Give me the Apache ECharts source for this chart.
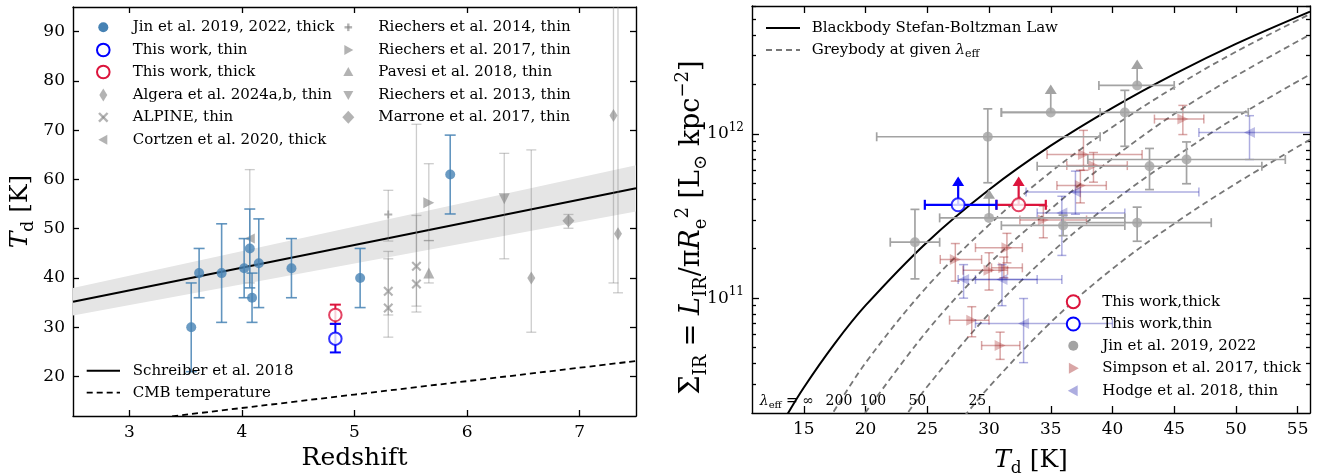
<!DOCTYPE html>
<html>
<head>
<meta charset="utf-8">
<script src="https://cdn.jsdelivr.net/npm/echarts@6.0.0/dist/echarts.min.js"></script>
<style>
html,body{margin:0;padding:0;background:#fff;}
#chart{width:1330px;height:475px;}
</style>
</head>
<body>
<div id="chart"></div>
<script>
// ================= LEFT PANEL : Td vs redshift =================
const zTicks = [3, 4, 5, 6, 7];
const tdTicks = [20, 30, 40, 50, 60, 70, 80, 90];
// rows: [z, Td, Td_low, Td_high]
const jinLeft = [[3.55,30,21,39],[3.62,41,36,46],[3.82,41,31,51],[4.02,42,36,48],[4.07,46,38,54],
                 [4.09,36,31,41],[4.15,43,34,52],[4.44,42,36,48],[5.05,40,34,46],[5.85,61,53,69]];
const thisThinLeft = [[4.83,27.7,24.9,30.7]];
const thisThickLeft = [[4.83,32.5,30.7,34.6]];
const algeraLeft = [[6.57,40,29,66],[7.30,73,39,100],[7.34,49,37,100]];
const alpineLeft = [[5.30,37.3,32.5,45.4],[5.30,33.9,28.0,43.9],[5.55,42.4,33.1,71.2],[5.55,38.8,34.3,52.7]];
const cortzenLeft = [[4.07,48,39,62]];
const riechers14Left = [[5.30,52.9,47.5,57.8]];
const riechers17Left = [[5.66,55.3,47.6,63.2]];
const pavesiLeft = [[5.66,41.0,39.0,47.6]];
const riechers13Left = [[6.33,56.1,43.9,65.3]];
const marroneLeft = [[6.90,51.6,50.1,52.9]];
const schreiberLine = [[2.5,35.2],[7.5,58.2]];
const schreiberBand = [[2.5,32.4,38.0],[7.5,53.5,62.9]]; // [z, low, high]
const cmbLine = [[2.5,9.54],[7.5,23.16]];

// ================= RIGHT PANEL : Sigma_IR vs Td =================
const tTicks = [15,20,25,30,35,40,45,50,55];
const logMajor = [1e11, 1e12];
const logMinor = [3e10,4e10,5e10,6e10,7e10,8e10,9e10,2e11,3e11,4e11,5e11,6e11,7e11,8e11,9e11,2e12,3e12,4e12,5e12,6e12];
const blackbody = [[13.5,1.87e10],[15,2.86e10],[17.5,5.29e10],[20,9.03e10],[25,2.20e11],[30,4.57e11],
                   [35,8.47e11],[40,1.44e12],[45,2.31e12],[50,3.53e12],[56,5.55e12]];
const grey200 = [[17,1.81e10],[20,4.04e10],[25,1.18e11],[30,2.79e11],[35,5.86e11],[40,1.10e12],[45,1.92e12],[50,3.16e12],[56,5.36e12]];
const grey100 = [[19.5,1.79e10],[25,6.35e10],[30,1.62e11],[35,3.49e11],[40,7.08e11],[45,1.32e12],[50,2.25e12],[56,4.02e12]];
const grey50  = [[23,1.81e10],[25,2.90e10],[30,8.04e10],[35,1.88e11],[40,3.85e11],[45,7.15e11],[50,1.26e12],[56,2.30e12]];
const grey25  = [[28,1.91e10],[30,2.88e10],[35,7.13e10],[40,1.51e11],[45,2.84e11],[50,4.98e11],[56,9.23e11]];
// rows: [Td, Sigma, Td_low, Td_high, Sigma_low, Sigma_high]
const jinRight = [[29.9,9.6e11,20.9,39.0,5.04e11,1.42e12],[41.0,1.35e12,31,51,8.4e11,1.84e12],
                  [43.0,6.35e11,33.9,52.1,4.58e11,8.15e11],[46.0,6.98e11,38,54,4.97e11,8.93e11],
                  [42.0,2.88e11,36,48,2.22e11,3.58e11],[24.0,2.19e11,22,26,1.31e11,3.47e11],
                  [36.0,2.77e11,31,41,2.4e11,3.2e11]];
// lower limits: [Td, Sigma, Td_low, Td_high, arrow_tip]
const jinRightLim = [[35.0,1.35e12,31,39,2.0e12],[42.0,1.97e12,38.9,45,2.83e12],[30.0,3.08e11,26,41,4.6e11]];
const simpsonRight = [[45.7,1.23e12,43.4,47.4,9.9e11,1.49e12],[37.65,7.48e11,34.7,42.4,6.0e11,1.05e12],
                      [38.46,6.41e11,36.3,41.2,5.08e11,7.7e11],[37.4,4.85e11,35.5,39.5,3.8e11,6.0e11],
                      [31.45,2.03e11,28.9,32.7,1.64e11,2.48e11],[27.27,1.72e11,26.05,29.4,1.27e11,2.15e11],
                      [30.0,1.48e11,27.9,31.5,1.12e11,1.89e11],[31.2,1.53e11,30.2,32.7,1.33e11,1.78e11],
                      [28.6,7.35e10,26.8,30.0,5.82e10,8.87e10],[30.9,5.15e10,29.4,32.5,4.24e10,6.21e10],
                      [34.4,2.99e11,32.5,37.9,2.33e11,3.63e11]];
const hodgeRight = [[51.1,1.02e12,47,57,6.98e11,1.29e12],[37.0,4.42e11,33,47,3.24e11,5.93e11],
                    [35.9,3.3e11,33.9,41,1.82e11,4.17e11],[27.94,1.3e11,27.5,33.9,1.0e11,1.6e11],
                    [31.05,1.3e11,28.9,35.9,9.0e10,1.6e11],[32.8,7.0e10,28.9,40,4.05e10,9.95e10]];
const thisThickRight = [[32.4,3.7e11,30.6,34.6,5.5e11]];
const thisThinRight = [[27.5,3.7e11,24.8,30.6,5.5e11]];
const lambdaLabels = [[11.43,2.36e10,'lam'],[16.76,2.36e10,'200'],[19.51,2.36e10,'100'],[23.47,2.36e10,'50'],[28.33,2.36e10,'25']];

// legend texts
const legendLeftA = ['Jin et al. 2019, 2022, thick','This work, thin','This work, thick','Algera et al. 2024a,b, thin','ALPINE, thin','Cortzen et al. 2020, thick'];
const legendLeftB = ['Riechers et al. 2014, thin','Riechers et al. 2017, thin','Pavesi et al. 2018, thin','Riechers et al. 2013, thin','Marrone et al. 2017, thin'];
const legendLeftC = ['Schreiber et al. 2018','CMB temperature'];
const legendRightB = ['This work,thick','This work,thin','Jin et al. 2019, 2022','Simpson et al. 2017, thick','Hodge et al. 2018, thin'];

// ================= styling =================
const F = 'DejaVu Serif';
const STEEL = '#4682b4', RED = '#dc143c', BLUE = '#0000ff';
const GRAYM = 'rgba(128,128,128,0.75)', GRAYE = 'rgba(128,128,128,0.4)';
const JGRAY = '#a3a3a3';
const BROWN = 'rgba(165,42,42,0.42)', NAVY = 'rgba(0,0,160,0.32)';
const CROSS = 'path://M1.5,0L5,3.5L8.5,0L10,1.5L6.5,5L10,8.5L8.5,10L5,6.5L1.5,10L0,8.5L3.5,5L0,1.5Z';
const PLUS = 'path://M3.8,0H6.2V3.8H10V6.2H6.2V10H3.8V6.2H0V3.8H3.8Z';

function L(x1,y1,x2,y2,st){return {type:'line',shape:{x1,y1,x2,y2},style:st};}

function vErr(rows, xi, yi, color, lw, cap, z){
  return {type:'custom', xAxisIndex:xi, yAxisIndex:yi, clip:true, z:z, silent:true, data:rows,
    encode:{x:0,y:1},
    renderItem:function(p, api){
      const x=api.value(0), a=api.coord([x,api.value(2)]), b=api.coord([x,api.value(3)]);
      const st={stroke:color,lineWidth:lw};
      return {type:'group',children:[L(a[0],a[1],b[0],b[1],st),L(a[0]-cap,a[1],a[0]+cap,a[1],st),L(b[0]-cap,b[1],b[0]+cap,b[1],st)]};
    }};
}
function xyErr(rows, xi, yi, color, lw, cap, z){
  return {type:'custom', xAxisIndex:xi, yAxisIndex:yi, clip:true, z:z, silent:true, data:rows,
    encode:{x:0,y:1},
    renderItem:function(p, api){
      const x=api.value(0), y=api.value(1);
      const l=api.coord([api.value(2),y]), r=api.coord([api.value(3),y]);
      const lo=api.coord([x,api.value(4)]), hi=api.coord([x,api.value(5)]);
      const st={stroke:color,lineWidth:lw};
      return {type:'group',children:[
        L(l[0],l[1],r[0],r[1],st),L(l[0],l[1]-cap,l[0],l[1]+cap,st),L(r[0],r[1]-cap,r[0],r[1]+cap,st),
        L(lo[0],lo[1],hi[0],hi[1],st),L(lo[0]-cap,lo[1],lo[0]+cap,lo[1],st),L(hi[0]-cap,hi[1],hi[0]+cap,hi[1],st)]};
    }};
}
function limErr(rows, xi, yi, color, lw, cap, z){
  return {type:'custom', xAxisIndex:xi, yAxisIndex:yi, clip:true, z:z, silent:true, data:rows,
    encode:{x:0,y:1},
    renderItem:function(p, api){
      const x=api.value(0), y=api.value(1);
      const c=api.coord([x,y]);
      const l=api.coord([api.value(2),y]), r=api.coord([api.value(3),y]);
      const t=api.coord([x,api.value(4)]);
      const st={stroke:color,lineWidth:lw};
      return {type:'group',children:[
        L(l[0],l[1],r[0],r[1],st),L(l[0],l[1]-cap,l[0],l[1]+cap,st),L(r[0],r[1]-cap,r[0],r[1]+cap,st),
        L(c[0],c[1],t[0],t[1]+8,st),
        {type:'polygon',shape:{points:[[t[0],t[1]],[t[0]+6,t[1]+9.5],[t[0]-6,t[1]+9.5]]},style:{fill:color}}]};
    }};
}
function sc(rows, xi, yi, symbol, size, style, z, rot){
  return {type:'scatter', xAxisIndex:xi, yAxisIndex:yi, symbol:symbol, symbolSize:size, symbolRotate:rot||0,
    data:rows.map(r=>[r[0],r[1]]), itemStyle:style, z:z, silent:true, clip:true};
}
function line(rows, xi, yi, color, width, dash, z){
  return {type:'line', xAxisIndex:xi, yAxisIndex:yi, data:rows, symbol:'none', smooth:0.35, z:z, silent:true,
    lineStyle:{color:color,width:width,type:dash||'solid'}, clip:true};
}

const axLine = {show:true,onZero:false,lineStyle:{color:'#000',width:1.4}};
function tick(vals,len){return {show:true,inside:true,length:len||6,customValues:vals,lineStyle:{color:'#000',width:1.3}};}
function lab(vals,extra){return Object.assign({show:true,customValues:vals,color:'#000',fontFamily:F,fontSize:17,margin:8},extra||{});}
const noLab = {show:false};

const nameRich = {
  i:{fontFamily:F,fontStyle:'italic',fontSize:25,lineHeight:34,verticalAlign:'middle',color:'#000'},
  g:{fontFamily:F,fontSize:25,lineHeight:34,verticalAlign:'middle',color:'#000'},
  s:{fontFamily:F,fontSize:17,lineHeight:17,verticalAlign:'bottom',color:'#000'},
  p:{fontFamily:F,fontSize:17,lineHeight:17,verticalAlign:'top',color:'#000'}
};
const nameRichBig = {
  i:{fontFamily:F,fontStyle:'italic',fontSize:27,lineHeight:36,verticalAlign:'middle',color:'#000'},
  g:{fontFamily:F,fontSize:27,lineHeight:36,verticalAlign:'middle',color:'#000'},
  s:{fontFamily:F,fontSize:18,lineHeight:18,verticalAlign:'bottom',color:'#000'},
  p:{fontFamily:F,fontSize:18,lineHeight:18,verticalAlign:'top',color:'#000'}
};

// ---------- legend graphics ----------
const G = [];
function gtext(x,y,text,size,rich){G.push({type:'text',x:x,y:y,z:100,style:{text:text,fontFamily:F,fontSize:size||15,fill:'#000',verticalAlign:'middle',align:'left',rich:rich}});}
function gcircle(cx,cy,r,fill,stroke,lw){G.push({type:'circle',z:100,shape:{cx,cy,r},style:{fill:fill,stroke:stroke||null,lineWidth:lw||0}});}
function gpoly(pts,fill){G.push({type:'polygon',z:100,shape:{points:pts},style:{fill:fill}});}
function gline(x1,y1,x2,y2,stroke,lw,dash){G.push({type:'line',z:100,shape:{x1,y1,x2,y2},style:{stroke:stroke,lineWidth:lw,lineDash:dash||null}});}
function tri(cx,cy,s,dir){
  const h=s/2;
  if(dir==='up') return [[cx,cy-h],[cx+h,cy+h*0.8],[cx-h,cy+h*0.8]];
  if(dir==='down') return [[cx,cy+h],[cx+h,cy-h*0.8],[cx-h,cy-h*0.8]];
  if(dir==='right') return [[cx+h,cy],[cx-h*0.8,cy-h],[cx-h*0.8,cy+h]];
  return [[cx-h,cy],[cx+h*0.8,cy-h],[cx+h*0.8,cy+h]];
}
function dia(cx,cy,w,h){return [[cx,cy-h/2],[cx+w/2,cy],[cx,cy+h/2],[cx-w/2,cy]];}

const rowsA=[27.3,50,72,95,117.3,139.7];
const LG='rgba(128,128,128,0.6)';
gcircle(103.3,rowsA[0],5,STEEL);
gcircle(103.3,rowsA[1],6.3,'#fff',BLUE,2);
gcircle(103.3,rowsA[2],6.3,'#fff',RED,2);
gpoly(dia(103.3,rowsA[3],8,13),LG);
gline(99,rowsA[4]-4.3,107.6,rowsA[4]+4.3,LG,2.4); gline(99,rowsA[4]+4.3,107.6,rowsA[4]-4.3,LG,2.4);
gpoly(tri(103.3,rowsA[5],10,'left'),LG);
legendLeftA.forEach((t,i)=>gtext(132.7,rowsA[i],t,15));
gline(344.5,rowsA[0],352.1,rowsA[0],LG,2.4); gline(348.3,rowsA[0]-3.8,348.3,rowsA[0]+3.8,LG,2.4);
gpoly(tri(348.3,rowsA[1],10,'right'),LG);
gpoly(tri(348.3,rowsA[2],10,'up'),LG);
gpoly(tri(348.3,rowsA[3],10,'down'),LG);
gpoly(dia(348.3,rowsA[4],12,13),LG);
legendLeftB.forEach((t,i)=>gtext(378.3,rowsA[i],t,15));
gline(86.7,370.7,120,370.7,'#000',2); gline(86.7,392.7,120,392.7,'#000',1.8,[6,4]);
legendLeftC.forEach((t,i)=>gtext(132.7,[370.7,392.7][i],t,15));
// right panel legends
gline(766,28,800,28,'#000',2); gline(766,50,800,50,'#777',1.8,[6,4]);
gtext(811.7,28,'Blackbody Stefan-Boltzman Law',15);
gtext(811.7,50,'{a|Greybody at given }{b|λ}{c|eff}',15,{a:{fontFamily:F,fontSize:15,lineHeight:20,verticalAlign:'middle'},b:{fontFamily:F,fontStyle:'italic',fontSize:15,lineHeight:20,verticalAlign:'middle'},c:{fontFamily:F,fontSize:11,lineHeight:11,verticalAlign:'bottom'}});
const rowsR=[301.7,324,345.7,368.3,390.7];
gcircle(1073.3,rowsR[0],6.5,'#fff',RED,2);
gcircle(1073.3,rowsR[1],6.5,'#fff',BLUE,2);
gcircle(1073.3,rowsR[2],5,JGRAY);
gpoly(tri(1073.3,rowsR[3],11,'right'),BROWN);
gpoly(tri(1073.3,rowsR[4],11,'left'),NAVY);
legendRightB.forEach((t,i)=>gtext(1102.3,rowsR[i],t,15));

const lamRich = {a:{fontFamily:F,fontSize:14,lineHeight:18,verticalAlign:'middle',color:'#000'},
                 b:{fontFamily:F,fontStyle:'italic',fontSize:14,lineHeight:18,verticalAlign:'middle',color:'#000'},
                 c:{fontFamily:F,fontSize:10,lineHeight:10,verticalAlign:'bottom',color:'#000'}};

const option = {
  animation:false,
  backgroundColor:'#fff',
  grid:[{left:73,top:7,width:563,height:409,outerBoundsMode:'none',containLabel:false},
        {left:752,top:6,width:558,height:407,outerBoundsMode:'none',containLabel:false}],
  xAxis:[
    {type:'value',gridIndex:0,position:'bottom',min:2.5,max:7.5,splitLine:{show:false},axisLine:axLine,axisTick:tick(zTicks),axisLabel:lab(zTicks),
     name:'Redshift',nameLocation:'middle',nameGap:30,nameTextStyle:{fontFamily:F,fontSize:25,color:'#000'}},
    {type:'value',gridIndex:0,position:'top',min:2.5,max:7.5,splitLine:{show:false},axisLine:axLine,axisTick:tick(zTicks),axisLabel:noLab},
    {type:'value',gridIndex:1,position:'bottom',min:10.8,max:56,splitLine:{show:false},axisLine:axLine,axisTick:tick(tTicks,7),axisLabel:lab(tTicks),
     name:'{i|T}{s|d}{g| [K]}',nameLocation:'middle',nameGap:30,nameTextStyle:{rich:nameRich}},
    {type:'value',gridIndex:1,position:'top',min:10.8,max:56,splitLine:{show:false},axisLine:axLine,axisTick:tick(tTicks,7),axisLabel:noLab}
  ],
  yAxis:[
    {type:'value',gridIndex:0,position:'left',min:12,max:95,splitLine:{show:false},axisLine:axLine,axisTick:tick(tdTicks),axisLabel:lab(tdTicks),
     name:'{i|T}{s|d}{g| [K]}',nameLocation:'middle',nameRotate:90,nameGap:36,nameTextStyle:{rich:nameRich}},
    {type:'value',gridIndex:0,position:'right',min:12,max:95,splitLine:{show:false},axisLine:axLine,axisTick:tick(tdTicks),axisLabel:noLab},
    {type:'log',logBase:10,gridIndex:1,position:'left',min:2e10,max:6e12,splitLine:{show:false},axisLine:axLine,axisTick:tick(logMajor,7),
     axisLabel:lab(logMajor,{formatter:function(v){return '{b|10}{s|'+Math.round(Math.log10(v))+'}';},
       rich:{b:{fontFamily:F,fontSize:17,lineHeight:24,verticalAlign:'middle',color:'#000'},s:{fontFamily:F,fontSize:12,lineHeight:12,verticalAlign:'top',color:'#000'}}}),
     name:'{g|Σ}{s|IR}{g| = }{i|L}{s|IR}{g|/π}{i|R}{s|e}{p|2}{g| [L}{s|⊙}{g| kpc}{p|−2}{g|]}',nameLocation:'middle',nameRotate:90,nameGap:42,
     nameMoveOverlap:false,nameTextStyle:{rich:nameRichBig,padding:[0,36,0,0]}},
    {type:'log',logBase:10,gridIndex:1,position:'left',min:2e10,max:6e12,splitLine:{show:false},axisLine:{show:false},axisTick:tick(logMinor,4),axisLabel:noLab},
    {type:'log',logBase:10,gridIndex:1,position:'right',min:2e10,max:6e12,splitLine:{show:false},axisLine:axLine,axisTick:tick(logMajor,7),axisLabel:noLab},
    {type:'log',logBase:10,gridIndex:1,position:'right',min:2e10,max:6e12,splitLine:{show:false},axisLine:{show:false},axisTick:tick(logMinor,4),axisLabel:noLab}
  ],
  graphic:G,
  series:[
    // ---- left ----
    {type:'custom',xAxisIndex:0,yAxisIndex:0,clip:true,z:1,silent:true,data:schreiberBand,encode:{x:0,y:1},
     renderItem:function(p,api){
       if(p.dataIndex!==0) return;
       const top=schreiberBand.map(r=>api.coord([r[0],r[2]]));
       const bot=schreiberBand.map(r=>api.coord([r[0],r[1]])).reverse();
       return {type:'polygon',shape:{points:top.concat(bot)},style:{fill:'#e5e5e5'}};
     }},
    line(schreiberLine,0,0,'#000',2,'solid',2),
    line(cmbLine,0,0,'#000',1.8,[6,4],2),
    vErr(algeraLeft.concat(alpineLeft,cortzenLeft,riechers14Left,riechers17Left,pavesiLeft,riechers13Left,marroneLeft),0,0,GRAYE,1.3,5,3),
    sc(algeraLeft,0,0,'diamond',[8,13],{color:GRAYM},4),
    sc(alpineLeft,0,0,CROSS,10,{color:GRAYM},4),
    sc(cortzenLeft,0,0,'triangle',10,{color:GRAYM},4,90),
    sc(riechers14Left,0,0,PLUS,8,{color:GRAYM},4),
    sc(riechers17Left,0,0,'triangle',11,{color:GRAYM},4,-90),
    sc(pavesiLeft,0,0,'triangle',11,{color:GRAYM},4),
    sc(riechers13Left,0,0,'triangle',11,{color:GRAYM},4,180),
    sc(marroneLeft,0,0,'diamond',[12,13],{color:GRAYM},4),
    vErr(jinLeft,0,0,'rgba(70,130,180,0.85)',1.6,5.5,5),
    sc(jinLeft,0,0,'circle',10,{color:STEEL},6),
    vErr(thisThickLeft,0,0,RED,2,5.5,7),
    vErr(thisThinLeft,0,0,BLUE,2,5.5,7),
    sc(thisThickLeft,0,0,'circle',12.5,{color:'#fff',borderColor:RED,borderWidth:2},8),
    sc(thisThinLeft,0,0,'circle',12.5,{color:'#fff',borderColor:BLUE,borderWidth:2},8),
    // ---- right ----
    line(blackbody,2,2,'#000',2,'solid',2),
    line(grey200,2,2,'#777',1.8,[6,4],2),
    line(grey100,2,2,'#777',1.8,[6,4],2),
    line(grey50,2,2,'#777',1.8,[6,4],2),
    line(grey25,2,2,'#777',1.8,[6,4],2),
    xyErr(simpsonRight,2,2,BROWN,1.5,4.5,3),
    sc(simpsonRight,2,2,'triangle',11,{color:BROWN},4,-90),
    xyErr(hodgeRight,2,2,NAVY,1.5,4.5,3),
    sc(hodgeRight,2,2,'triangle',11,{color:NAVY},4,90),
    xyErr(jinRight,2,2,JGRAY,1.7,4.5,5),
    limErr(jinRightLim,2,2,JGRAY,1.7,4.5,5),
    sc(jinRight.concat(jinRightLim),2,2,'circle',10,{color:JGRAY},6),
    limErr(thisThickRight,2,2,RED,2.2,5,7),
    limErr(thisThinRight,2,2,BLUE,2.2,5,7),
    sc(thisThickRight,2,2,'circle',13,{color:'#fff',borderColor:RED,borderWidth:2},8),
    sc(thisThinRight,2,2,'circle',13,{color:'#fff',borderColor:BLUE,borderWidth:2},8),
    {type:'custom',xAxisIndex:2,yAxisIndex:2,clip:false,z:9,silent:true,data:lambdaLabels.map(r=>[r[0],r[1]]),encode:{x:0,y:1},
     renderItem:function(p,api){
       const c=api.coord([api.value(0),api.value(1)]);
       const lbl=lambdaLabels[p.dataIndex][2];
       const text = lbl==='lam' ? '{b|λ}{c|eff}{a| = ∞}' : '{a|'+lbl+'}';
       return {type:'text',x:c[0],y:c[1],style:{text:text,rich:lamRich,align:'left',verticalAlign:'middle',fontFamily:F,fontSize:14,fill:'#000'}};
     }}
  ]
};
const chart = echarts.init(document.getElementById('chart'), null, {renderer:'canvas'});
chart.setOption(option);
</script>
</body>
</html>
